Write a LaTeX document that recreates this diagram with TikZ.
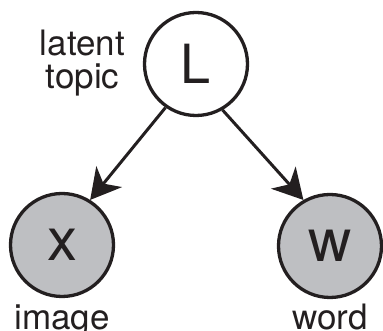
\documentclass[tikz,border=0pt]{standalone}
\usepackage{fontspec}
\setmainfont{TeX Gyre Heros}
\usetikzlibrary{arrows.meta}
\definecolor{obsfill}{RGB}{190,191,194}
\definecolor{ink}{RGB}{35,31,32}
\begin{document}
\begin{tikzpicture}[x=1pt,y=1pt,
  var/.style={circle, draw=ink, line width=3.3pt, minimum size=103pt, inner sep=0pt,
              font=\fontsize{54}{54}\selectfont, text=ink},
  observed/.style={var, fill=obsfill, font=\fontsize{60}{60}\selectfont},
  latentvar/.style={var, fill=white},
  caption/.style={font=\fontsize{35}{33}\selectfont, text=ink, inner sep=0pt},
  edge/.style={draw=ink, line width=3pt, -{Stealth[length=30pt, width=33pt, inset=9pt]}}]
  \useasboundingbox (0,0) rectangle (383,331);

  % nodes of the model
  \node[latentvar] (L) at (196,267) {L};
  \node[observed]  (X) at (62,86)  {x};
  \node[observed]  (W) at (330,85) {w};

  % captions (base anchor sits on the last line of the two-line caption)
  \node[caption, align=center, anchor=base] (lt) at (82.5,242) {latent\\topic};
  \node[caption, anchor=base] (im) at (62,1) {image};
  \node[caption, anchor=base] (wd) at (330,1) {word};

  % dependencies
  \draw[edge] (L.-125) -- (X.58);
  \draw[edge] (L.-60) -- (W.120);
\end{tikzpicture}
\end{document}
